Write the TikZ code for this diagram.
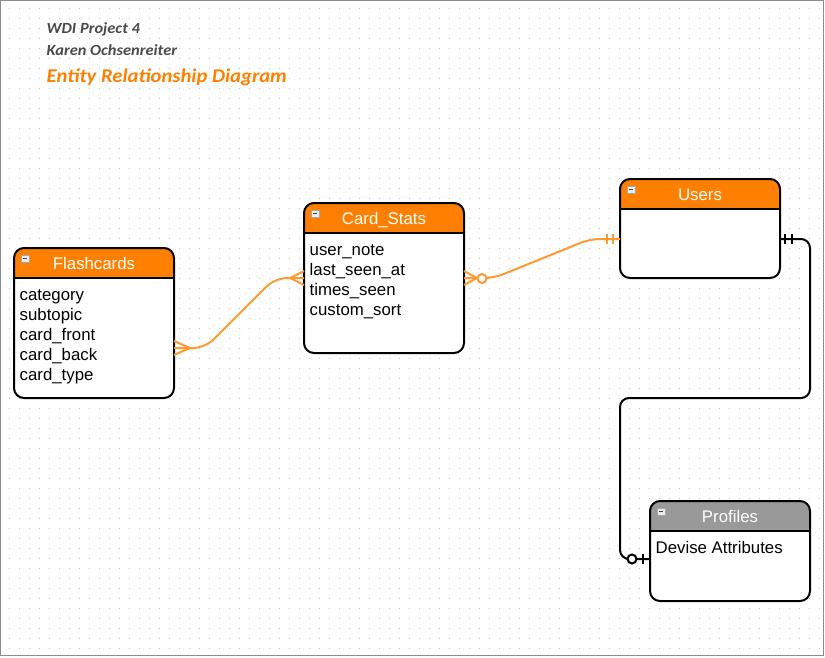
\documentclass[tikz,border=0pt]{standalone}
\usepackage{fontspec}
\setmainfont{Liberation Sans}
\newfontfamily\titlefont[FakeStretch=1.06]{Carlito}
\usetikzlibrary{calc}
\definecolor{hdrorange}{HTML}{FF8000}
\definecolor{lineorange}{HTML}{FF9A33}
\definecolor{hdrgray}{HTML}{999999}
\definecolor{titlegray}{HTML}{4A4A4A}
\definecolor{dotgray}{HTML}{C4C4C4}
\definecolor{framegray}{HTML}{8C8C8C}
\tikzset{
  entity/.style={draw=none, inner sep=0pt, outer sep=0pt, minimum width=160pt},
  hdrtext/.style={text=white, inner sep=0pt, font=\fontsize{16.8}{20}\selectfont},
  attrtext/.style={inner sep=0pt, align=left, font=\fontsize{16.8}{20}\selectfont},
  oline/.style={draw=lineorange, line width=2pt},
  bline/.style={draw=black, line width=2pt},
  titletext/.style={inner sep=0pt, anchor=base west},
}
\newcommand\erentity[6]{%
  \node[entity, minimum height=#3] (#1) at (#2) {};
  \fill[white, rounded corners=10pt] (#1.south west) rectangle (#1.north east);
  \begin{scope}
    \clip[rounded corners=10pt] (#1.south west) rectangle (#1.north east);
    \fill[#4] (#1.north west) rectangle ($(#1.north east)+(0,30)$);
  \end{scope}
  \draw[line width=2pt] ($(#1.north west)+(0,30)$) -- ($(#1.north east)+(0,30)$);
  \draw[line width=2pt, rounded corners=10pt] (#1.south west) rectangle (#1.north east);
  \node[hdrtext, anchor=base] (#1-title) at ($(#1.north)+(0,21)$) {#5};
  \node[attrtext, anchor=north west] (#1-attrs) at ($(#1.north west)+(5.5,38)$) {#6};
  \draw[draw=gray!70, fill=gray!15, line width=0.8pt] ($(#1.north west)+(7,7)$) rectangle ($(#1.north west)+(15,14)$);
  \draw[black!75, line width=1pt] ($(#1.north west)+(9,10.5)$) -- ($(#1.north west)+(13,10.5)$);
}
\begin{document}
\begin{tikzpicture}[x=1pt, y=-1pt]
\useasboundingbox (0,0) rectangle (825,657);
% dotted grid
\foreach \j in {0,...,64}
  \draw[dotgray, line width=1pt, dash pattern=on 1pt off 9pt] (9,8.5+10*\j) -- (825,8.5+10*\j);
% frame
\draw[framegray, line width=1pt] (0.5,0.5) rectangle (823.5,655.5);
% titles
\node[titletext, text=titlegray, font=\titlefont\bfseries\itshape\fontsize{15.5}{17}\selectfont] (t1) at (46.5,33) {WDI Project 4};
\node[titletext, text=titlegray, font=\titlefont\bfseries\itshape\fontsize{15.5}{17}\selectfont] (t2) at (46.5,55) {Karen Ochsenreiter};
\node[titletext, text=hdrorange, font=\titlefont\bfseries\itshape\fontsize{19.5}{21}\selectfont] (t3) at (46.5,82.5) {Entity Relationship Diagram};
% entities
\erentity{fc}{94,323}{150}{hdrorange}{Flashcards}{\strut category\\subtopic\\card\_front\\card\_back\\card\_type}
\erentity{cs}{384,278}{150}{hdrorange}{Card\_Stats}{\strut user\_note\\last\_seen\_at\\times\_seen\\custom\_sort}
\erentity{us}{700,228.5}{99}{hdrorange}{Users}{}
\erentity{pr}{730,551}{100}{hdrgray}{Profiles}{\strut Devise Attributes}
% Flashcards -- Card_Stats
\draw[oline, rounded corners=12pt] ($(fc.east)+(0,25)$) -- ($(fc.east)+(31,25)$) -- ($(cs.west)+(-29,0)$) -- (cs.west);
\draw[oline] ($(fc.east)+(0,18)$) -- ($(fc.east)+(16,25)$) -- ($(fc.east)+(0,32)$);
\draw[oline] ($(cs.west)+(0,-7)$) -- ($(cs.west)+(-14,0)$) -- ($(cs.west)+(0,7)$);
% Card_Stats -- Users
\draw[oline, rounded corners=10pt] (cs.east) -- ($(cs.east)+(30,0)$) -- ($(us.west)+(-30,10.5)$) -- ($(us.west)+(0,10.5)$);
\draw[oline] ($(cs.east)+(0,-7)$) -- ($(cs.east)+(13,0)$) -- ($(cs.east)+(0,7)$);
\draw[oline, fill=white] ($(cs.east)+(18,0.5)$) circle[radius=4.5pt];
\draw[oline] ($(us.west)+(-13,5.5)$) -- ($(us.west)+(-13,15.5)$);
\draw[oline] ($(us.west)+(-7,5.5)$) -- ($(us.west)+(-7,15.5)$);
% Users -- Profiles
\draw[bline, rounded corners=9pt] ($(us.east)+(0,10.5)$) -- ($(us.east)+(30,10.5)$) -- ($(us.east)+(30,169.5)$) -- ($(pr.west)+(-30,-153)$) -- ($(pr.west)+(-30,8)$) -- ($(pr.west)+(0,8)$);
\draw[bline] ($(us.east)+(5,5.5)$) -- ($(us.east)+(5,15.5)$);
\draw[bline] ($(us.east)+(12,5.5)$) -- ($(us.east)+(12,15.5)$);
\draw[bline] ($(pr.west)+(-7,3)$) -- ($(pr.west)+(-7,13)$);
\draw[bline, fill=white] ($(pr.west)+(-18,8)$) circle[radius=4.5pt];
\end{tikzpicture}
\end{document}
